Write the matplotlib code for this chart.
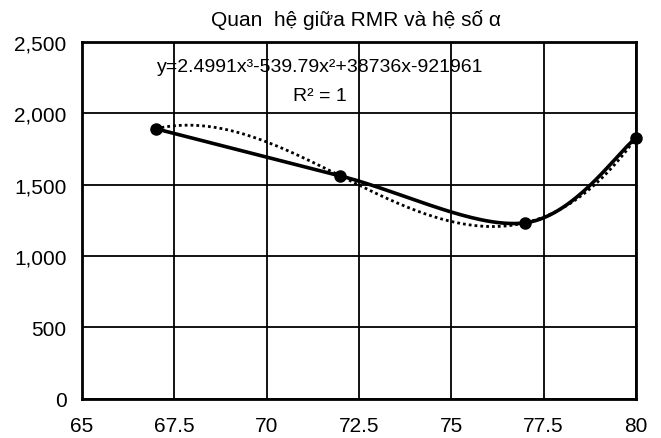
import numpy as np
import matplotlib
matplotlib.use("Agg")
import matplotlib.pyplot as plt
from matplotlib.ticker import FuncFormatter

plt.rcParams['font.family'] = ['Liberation Sans', 'DejaVu Sans']

# Dữ liệu
rmr = [67, 72, 77, 80]
alpha = [1890, 1560, 1232, 1825]
x_ticks = [65, 67.5, 70, 72.5, 75, 77.5, 80]
y_ticks = [0, 500, 1000, 1500, 2000, 2500]
title = "Quan  hệ giữa RMR và hệ số α"
eq_text = "y=2.4991x³-539.79x²+38736x-921961"
r2_text = "R² = 1"


def smooth_line(xs, ys, n=60):
    # đường cong kiểu Excel (Bezier / Catmull-Rom)
    pts = np.column_stack([xs, ys]).astype(float)
    out = []
    for i in range(len(pts) - 1):
        p0 = pts[max(i - 1, 0)]
        p1 = pts[i]
        p2 = pts[i + 1]
        p3 = pts[min(i + 2, len(pts) - 1)]
        c1 = p1 + (p2 - p0) / 6.0
        c2 = p2 - (p3 - p1) / 6.0
        t = np.linspace(0, 1, n)[:, None]
        seg = ((1 - t) ** 3 * p1 + 3 * (1 - t) ** 2 * t * c1
               + 3 * (1 - t) * t ** 2 * c2 + t ** 3 * p2)
        out.append(seg)
    out = np.vstack(out)
    return out[:, 0], out[:, 1]


fig = plt.figure(figsize=(6.61, 4.39), dpi=100)
ax = fig.add_axes([0.124, 0.089, 0.838, 0.814])

# đường xu hướng bậc 3
coef = np.polyfit(rmr, alpha, 3)
xt = np.linspace(rmr[0], rmr[-1], 300)
ax.plot(xt, np.polyval(coef, xt), linestyle=(0, (1, 1.1)), color='black', lw=2.0, zorder=3)

sx, sy = smooth_line(rmr, alpha)
ax.plot(sx, sy, color='black', lw=2.6, zorder=4, solid_capstyle='round')
ax.plot(rmr, alpha, 'o', color='black', markersize=8, zorder=5, clip_on=False)

ax.set_xlim(65, 80)
ax.set_ylim(0, 2500)
ax.set_xticks(x_ticks)
ax.set_yticks(y_ticks)
ax.xaxis.set_major_formatter(FuncFormatter(lambda v, p: f"{v:g}"))
ax.yaxis.set_major_formatter(FuncFormatter(lambda v, p: f"{v:,.0f}"))
ax.grid(True, color='black', lw=1.3)
ax.set_axisbelow(True)
ax.tick_params(length=0, labelsize=15, pad=12)
ax.tick_params(axis='y', pad=11)
for s in ax.spines.values():
    s.set_linewidth(2)

ax.text(0.494, 1.035, title, transform=ax.transAxes, ha='center', va='bottom', fontsize=15)
ax.text(71.45, 2325, eq_text, ha='center', va='center', fontsize=14)
ax.text(71.45, 2122, r2_text, ha='center', va='center', fontsize=14)

fig.savefig("out.png", dpi=100)
